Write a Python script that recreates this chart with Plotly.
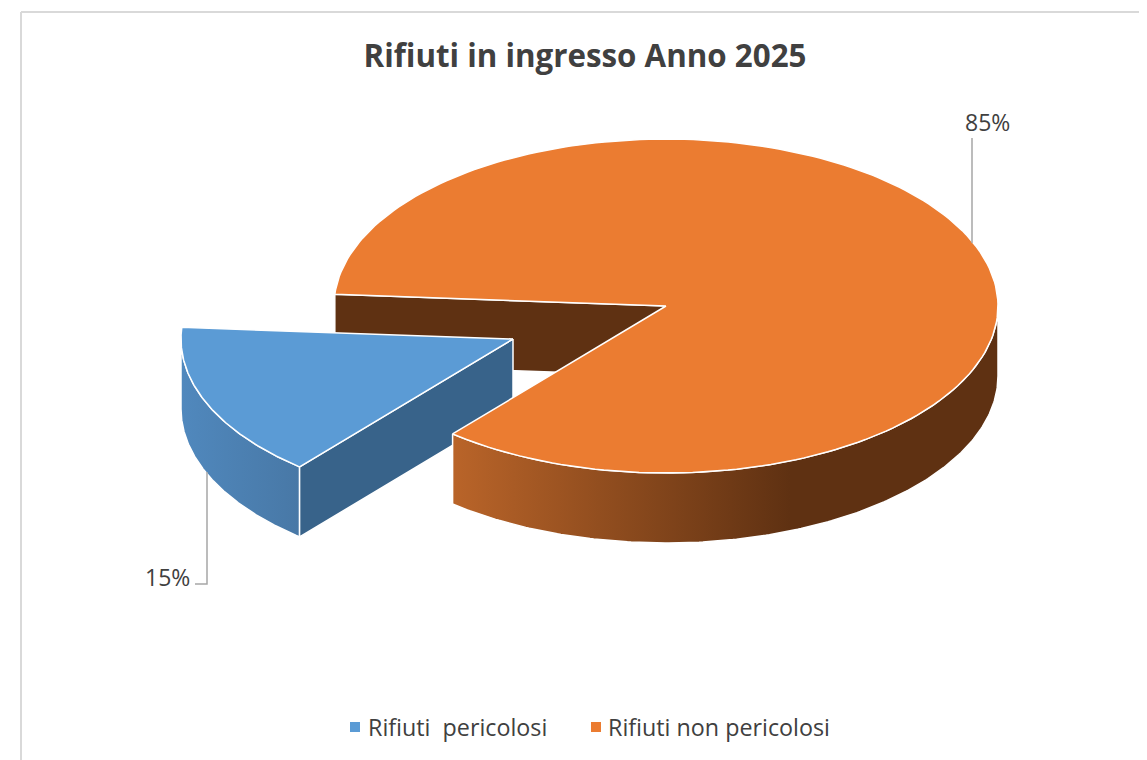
import numpy as np
import plotly.graph_objects as go

# dati del grafico
categories = ['Rifiuti  pericolosi', 'Rifiuti non pericolosi']
values = [15, 85]
value_labels = ['15%', '85%']
colors = ['#5b9bd5', '#eb7c31']

# geometria della torta 3D (pixel della pagina)
CX, CY = 666, 306
RX, RY = 332, 167
DEPTH = 70
START = 130.0
EXPLODE_X, EXPLODE_Y = -153, 33
# la pagina ha un margine di 8px sul body
PAGE_MARGIN = 8


def arc(a0, a1, dx=0, dy=0):
    t = np.radians(np.linspace(a0, a1, 200))
    return CX + dx + RX * np.cos(t), CY + dy + RY * np.sin(t)


def poly(x, y, fill, name='', gradient=None):
    kw = dict(fillgradient=gradient) if gradient else dict(fillcolor=fill)
    return go.Scatter(x=list(x), y=list(y), mode='lines', fill='toself', line=dict(color='white', width=1.5),
                      hoverinfo='skip', showlegend=False, **kw)


def wall(a0, a1, dx=0, dy=0):
    x, y = arc(a0, a1, dx, dy)
    return np.concatenate([x, x[::-1], x[:1]]), np.concatenate([y, y[::-1] + DEPTH, y[:1]])


# angoli delle fette
sweep = [v / sum(values) * 360 for v in values]
a_blue0 = START
a_blue1 = START + sweep[0]
a_or0 = a_blue1
a_or1 = a_blue1 + sweep[1]

fig = go.Figure()

# parete interna arancione (marrone)
bx, by = arc(a_or0, a_or0)
fig.add_trace(poly([CX, bx[0], bx[0], CX, CX], [CY, by[0], by[0] + DEPTH, CY + DEPTH, CY], '#5f3112'))

# fetta blu staccata
fig.add_trace(poly(*wall(a_blue0, 180, EXPLODE_X, EXPLODE_Y), None,
                   gradient=dict(type='horizontal', start=182, stop=300,
                                 colorscale=[[0, '#5088bd'], [1, '#4878a6']])))
ax, ay = arc(a_blue0, a_blue0, EXPLODE_X, EXPLODE_Y)
tx, ty = CX + EXPLODE_X, CY + EXPLODE_Y
fig.add_trace(poly([tx, ax[0], ax[0], tx, tx], [ty, ay[0], ay[0] + DEPTH, ty + DEPTH, ty], '#38638a'))
x, y = arc(a_blue0, a_blue1, EXPLODE_X, EXPLODE_Y)
fig.add_trace(poly(np.r_[tx, x, tx], np.r_[ty, y, ty], colors[0]))

# fetta arancione
fig.add_trace(poly(*wall(a_blue0, 0), None,
                   gradient=dict(type='horizontal', start=454, stop=790,
                                 colorscale=[[0, '#b96429'], [1, '#5f3112']])))
x, y = arc(a_or0, a_or1)
fig.add_trace(poly(np.r_[CX, x, CX], np.r_[CY, y, CY], colors[1]))

# legenda
legend_x = [355, 596]
legend_text_x = [366, 606]
legend_y = 727
fig.add_trace(go.Scatter(x=legend_x, y=[legend_y] * 2, mode='markers', hoverinfo='skip', showlegend=False,
                         marker=dict(symbol='square', size=10, color=colors)))

annotations = []
for lx, cat in zip(legend_text_x, categories):
    annotations.append(dict(x=lx, y=legend_y, text=cat.replace('  ', '\u00a0 '), xanchor='left', yanchor='middle',
                            showarrow=False, font=dict(size=23.3, color='#404040', family='Open Sans')))
# etichette percentuali
for lx, ly, txt in zip([167, 987], [577, 122], value_labels):
    annotations.append(dict(x=lx, y=ly, text=txt, xanchor='center', yanchor='middle',
                            showarrow=False, font=dict(size=23, color='#404040', family='Open Sans')))

shapes = [
    # cornice
    dict(type='line', x0=21, x1=1170, y0=12, y1=12, line=dict(color='#d9d9d9', width=2)),
    dict(type='line', x0=21, x1=21, y0=12, y1=780, line=dict(color='#d9d9d9', width=2)),
    # linee guida
    dict(type='line', x0=972, x1=972, y0=138, y1=243, line=dict(color='#a6a6a6', width=1.5)),
    dict(type='path', path='M 207 472 L 207 584 L 195 584', line=dict(color='#a6a6a6', width=1.5)),
]

fig.update_layout(
    title=dict(text='<b>Rifiuti in ingresso Anno 2025</b>', x=(585 - PAGE_MARGIN) / 1147, xanchor='center',
               y=1 - (56 - PAGE_MARGIN) / 760, yanchor='middle',
               font=dict(size=31.3, color='#404040', family='Open Sans')),
    width=1147, height=760, margin=dict(l=0, r=0, t=0, b=0),
    plot_bgcolor='white', paper_bgcolor='white', showlegend=False,
    xaxis=dict(range=[PAGE_MARGIN, 1147 + PAGE_MARGIN], visible=False, fixedrange=True),
    yaxis=dict(range=[760 + PAGE_MARGIN, PAGE_MARGIN], visible=False, fixedrange=True),
    annotations=annotations, shapes=shapes,
)

fig.write_html("out.html")
